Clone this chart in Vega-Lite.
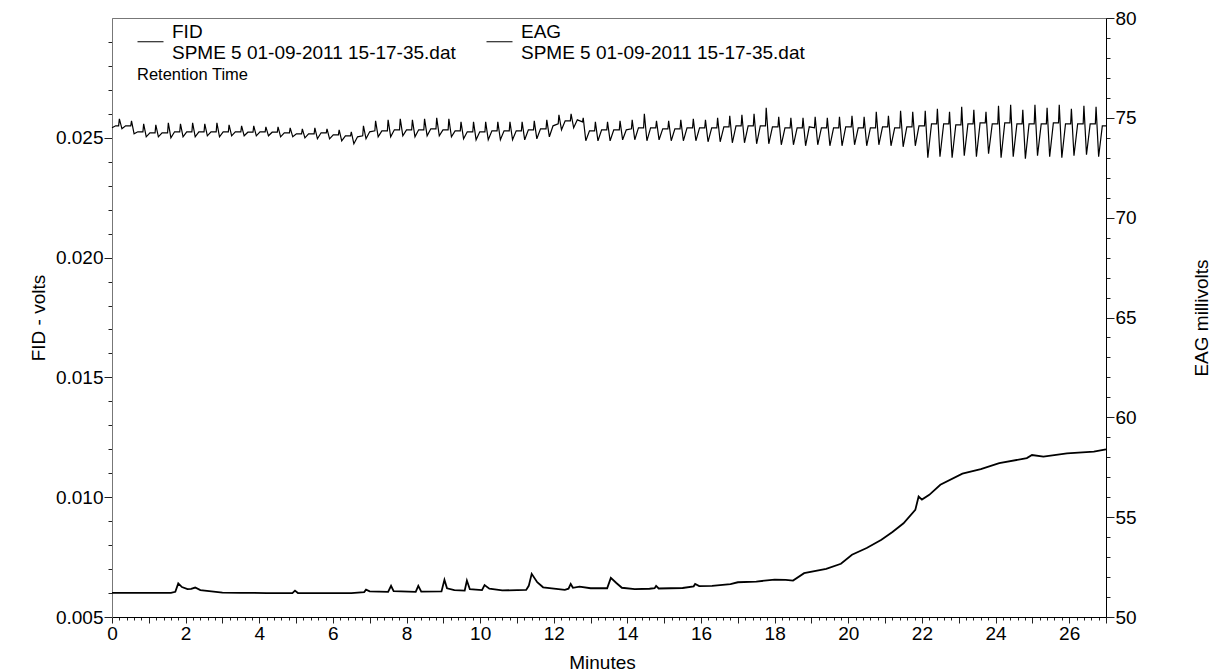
{
"$schema": "https://vega.github.io/schema/vega-lite/v6.json",
"width": 994,
"height": 599,
"autosize": {"type": "none"},
"padding": {"left": 112, "top": 18, "right": 112, "bottom": 54},
"background": "white",
"config": {
  "view": {"stroke": "#777", "strokeWidth": 1},
  "font": "Liberation Sans",
  "axis": {"grid": false, "labelFont": "Liberation Sans", "titleFont": "Liberation Sans", "labelColor": "black", "titleColor": "black", "titleFontWeight": "normal", "labelFontSize": 19, "titleFontSize": 19, "tickColor": "#222", "domainColor": "black", "labelOverlap": false, "labelFlush": false}
},
"datasets": {
"fid": [
{"t":0,"v":0.00601},{"t":1.6,"v":0.00601},{"t":1.72,"v":0.00605},{"t":1.8,"v":0.0064},{"t":1.9,"v":0.00625},{"t":2.05,"v":0.00616},{"t":2.15,"v":0.00617},{"t":2.26,"v":0.00623},{"t":2.4,"v":0.00612},{"t":2.7,"v":0.00607},{"t":3.0,"v":0.00602},{"t":3.5,"v":0.00601},{"t":4.2,"v":0.006},{"t":4.9,"v":0.006},{"t":4.97,"v":0.0061},{"t":5.05,"v":0.006},{"t":6.5,"v":0.006},{"t":6.85,"v":0.00604},{"t":6.9,"v":0.00614},{"t":7.0,"v":0.00607},{"t":7.5,"v":0.00605},{"t":7.58,"v":0.0063},{"t":7.65,"v":0.00608},{"t":8.25,"v":0.00605},{"t":8.32,"v":0.0063},{"t":8.4,"v":0.00606},{"t":8.95,"v":0.00607},{"t":9.03,"v":0.00655},{"t":9.1,"v":0.0062},{"t":9.3,"v":0.00612},{"t":9.58,"v":0.0061},{"t":9.64,"v":0.00652},{"t":9.72,"v":0.00616},{"t":10.05,"v":0.00612},{"t":10.12,"v":0.00633},{"t":10.25,"v":0.00618},{"t":10.6,"v":0.00611},{"t":11.25,"v":0.00613},{"t":11.32,"v":0.0063},{"t":11.4,"v":0.0068},{"t":11.55,"v":0.00645},{"t":11.71,"v":0.00624},{"t":12.3,"v":0.00613},{"t":12.4,"v":0.00618},{"t":12.46,"v":0.00638},{"t":12.52,"v":0.00622},{"t":12.7,"v":0.00627},{"t":13.0,"v":0.0062},{"t":13.45,"v":0.0062},{"t":13.55,"v":0.00663},{"t":13.7,"v":0.00642},{"t":13.85,"v":0.00622},{"t":14.2,"v":0.00616},{"t":14.6,"v":0.00618},{"t":14.74,"v":0.0062},{"t":14.78,"v":0.0063},{"t":14.85,"v":0.00619},{"t":15.5,"v":0.00621},{"t":15.8,"v":0.00628},{"t":15.84,"v":0.00638},{"t":15.95,"v":0.00629},{"t":16.3,"v":0.0063},{"t":16.8,"v":0.00637},{"t":17.0,"v":0.00645},{"t":17.5,"v":0.00648},{"t":18.0,"v":0.00656},{"t":18.3,"v":0.00655},{"t":18.5,"v":0.00652},{"t":18.8,"v":0.00683},{"t":19.4,"v":0.00701},{"t":19.8,"v":0.00722},{"t":20.1,"v":0.0076},{"t":20.5,"v":0.00788},{"t":20.9,"v":0.00822},{"t":21.2,"v":0.00855},{"t":21.5,"v":0.00891},{"t":21.82,"v":0.00947},{"t":21.91,"v":0.01003},{"t":22.0,"v":0.0099},{"t":22.2,"v":0.0101},{"t":22.5,"v":0.01052},{"t":23.1,"v":0.01098},{"t":23.6,"v":0.01117},{"t":24.1,"v":0.01142},{"t":24.85,"v":0.01163},{"t":24.99,"v":0.01176},{"t":25.3,"v":0.01169},{"t":25.94,"v":0.01183},{"t":26.67,"v":0.0119},{"t":27.0,"v":0.012}
],
"eag": [
{"t":0,"v":74.5},{"t":0.1,"v":74.6},
{"t":0.18,"v":74.6},{"t":0.2,"v":74.95},{"t":0.27,"v":74.45},{"t":0.37,"v":74.6},
{"t":0.51,"v":74.6},{"t":0.53,"v":74.85},{"t":0.6,"v":74.2},{"t":0.7,"v":74.3},
{"t":0.84,"v":74.3},{"t":0.86,"v":74.7},{"t":0.93,"v":74.05},{"t":1.03,"v":74.25},
{"t":1.17,"v":74.25},{"t":1.19,"v":74.65},{"t":1.26,"v":74.05},{"t":1.36,"v":74.25},
{"t":1.51,"v":74.25},{"t":1.53,"v":74.75},{"t":1.6,"v":74.0},{"t":1.7,"v":74.3},
{"t":1.84,"v":74.3},{"t":1.86,"v":74.7},{"t":1.93,"v":74.05},{"t":2.03,"v":74.3},
{"t":2.17,"v":74.3},{"t":2.19,"v":74.75},{"t":2.26,"v":74.05},{"t":2.36,"v":74.3},
{"t":2.5,"v":74.3},{"t":2.52,"v":74.7},{"t":2.59,"v":74.1},{"t":2.69,"v":74.3},
{"t":2.83,"v":74.3},{"t":2.85,"v":74.75},{"t":2.92,"v":74.05},{"t":3.02,"v":74.3},
{"t":3.16,"v":74.3},{"t":3.18,"v":74.65},{"t":3.25,"v":74.1},{"t":3.35,"v":74.3},
{"t":3.5,"v":74.3},{"t":3.52,"v":74.6},{"t":3.59,"v":74.1},{"t":3.69,"v":74.28},
{"t":3.83,"v":74.28},{"t":3.85,"v":74.6},{"t":3.92,"v":74.1},{"t":4.02,"v":74.3},
{"t":4.16,"v":74.3},{"t":4.18,"v":74.55},{"t":4.25,"v":74.1},{"t":4.35,"v":74.28},
{"t":4.49,"v":74.28},{"t":4.51,"v":74.55},{"t":4.58,"v":74.05},{"t":4.68,"v":74.25},
{"t":4.82,"v":74.25},{"t":4.84,"v":74.5},{"t":4.91,"v":74.05},{"t":5.01,"v":74.2},
{"t":5.15,"v":74.2},{"t":5.17,"v":74.45},{"t":5.24,"v":74.0},{"t":5.34,"v":74.2},
{"t":5.49,"v":74.2},{"t":5.51,"v":74.5},{"t":5.58,"v":73.95},{"t":5.68,"v":74.25},
{"t":5.82,"v":74.25},{"t":5.84,"v":74.45},{"t":5.91,"v":73.95},{"t":6.01,"v":74.15},
{"t":6.15,"v":74.15},{"t":6.17,"v":74.4},{"t":6.24,"v":73.85},{"t":6.34,"v":74.1},
{"t":6.48,"v":74.1},{"t":6.5,"v":74.3},{"t":6.57,"v":73.7},{"t":6.67,"v":74.05},
{"t":6.81,"v":74.1},{"t":6.83,"v":74.6},{"t":6.9,"v":73.95},{"t":7.0,"v":74.3},
{"t":7.14,"v":74.35},{"t":7.16,"v":74.85},{"t":7.23,"v":74.05},{"t":7.33,"v":74.35},
{"t":7.48,"v":74.35},{"t":7.5,"v":74.9},{"t":7.57,"v":74.05},{"t":7.67,"v":74.4},
{"t":7.81,"v":74.4},{"t":7.83,"v":74.95},{"t":7.9,"v":74.1},{"t":8.0,"v":74.4},
{"t":8.14,"v":74.4},{"t":8.16,"v":74.9},{"t":8.23,"v":74.05},{"t":8.33,"v":74.4},
{"t":8.47,"v":74.4},{"t":8.49,"v":74.95},{"t":8.56,"v":74.1},{"t":8.66,"v":74.45},
{"t":8.8,"v":74.45},{"t":8.82,"v":75.0},{"t":8.89,"v":74.1},{"t":8.99,"v":74.4},
{"t":9.13,"v":74.4},{"t":9.15,"v":74.95},{"t":9.22,"v":74.05},{"t":9.32,"v":74.35},
{"t":9.46,"v":74.35},{"t":9.48,"v":74.8},{"t":9.55,"v":73.95},{"t":9.65,"v":74.3},
{"t":9.8,"v":74.3},{"t":9.82,"v":74.8},{"t":9.89,"v":73.9},{"t":9.99,"v":74.3},
{"t":10.13,"v":74.3},{"t":10.15,"v":74.8},{"t":10.22,"v":73.9},{"t":10.32,"v":74.35},
{"t":10.46,"v":74.35},{"t":10.48,"v":74.8},{"t":10.55,"v":73.9},{"t":10.65,"v":74.35},
{"t":10.79,"v":74.35},{"t":10.81,"v":74.8},{"t":10.88,"v":73.9},{"t":10.98,"v":74.35},
{"t":11.12,"v":74.35},{"t":11.14,"v":74.8},{"t":11.21,"v":73.9},{"t":11.31,"v":74.4},
{"t":11.45,"v":74.4},{"t":11.47,"v":74.85},{"t":11.54,"v":73.95},{"t":11.64,"v":74.45},
{"t":11.79,"v":74.45},{"t":11.81,"v":74.9},{"t":11.88,"v":74.05},{"t":11.98,"v":74.6},
{"t":12.12,"v":74.7},{"t":12.14,"v":75.15},{"t":12.21,"v":74.4},{"t":12.31,"v":74.85},
{"t":12.45,"v":74.85},{"t":12.47,"v":75.2},{"t":12.54,"v":74.5},{"t":12.64,"v":74.9},
{"t":12.78,"v":74.8},{"t":12.8,"v":75.0},{"t":12.87,"v":73.85},{"t":12.97,"v":74.35},
{"t":13.11,"v":74.35},{"t":13.13,"v":74.8},{"t":13.2,"v":73.85},{"t":13.3,"v":74.4},
{"t":13.44,"v":74.4},{"t":13.46,"v":74.8},{"t":13.53,"v":73.85},{"t":13.63,"v":74.4},
{"t":13.78,"v":74.4},{"t":13.8,"v":74.85},{"t":13.87,"v":73.9},{"t":13.97,"v":74.4},
{"t":14.11,"v":74.45},{"t":14.13,"v":74.9},{"t":14.2,"v":73.9},{"t":14.3,"v":74.5},
{"t":14.44,"v":74.5},{"t":14.46,"v":75.2},{"t":14.53,"v":73.85},{"t":14.63,"v":74.5},
{"t":14.77,"v":74.5},{"t":14.79,"v":74.85},{"t":14.86,"v":73.9},{"t":14.96,"v":74.45},
{"t":15.1,"v":74.45},{"t":15.12,"v":74.85},{"t":15.19,"v":73.85},{"t":15.29,"v":74.45},
{"t":15.43,"v":74.45},{"t":15.45,"v":74.9},{"t":15.52,"v":73.85},{"t":15.62,"v":74.5},
{"t":15.77,"v":74.5},{"t":15.79,"v":74.95},{"t":15.86,"v":73.85},{"t":15.96,"v":74.5},
{"t":16.1,"v":74.5},{"t":16.12,"v":74.9},{"t":16.19,"v":73.8},{"t":16.29,"v":74.5},
{"t":16.43,"v":74.5},{"t":16.45,"v":75.0},{"t":16.52,"v":73.8},{"t":16.62,"v":74.55},
{"t":16.76,"v":74.55},{"t":16.78,"v":75.1},{"t":16.85,"v":73.75},{"t":16.95,"v":74.6},
{"t":17.09,"v":74.6},{"t":17.11,"v":75.15},{"t":17.18,"v":73.75},{"t":17.28,"v":74.6},
{"t":17.42,"v":74.6},{"t":17.44,"v":75.2},{"t":17.51,"v":73.7},{"t":17.61,"v":74.6},
{"t":17.75,"v":74.6},{"t":17.77,"v":75.5},{"t":17.84,"v":73.7},{"t":17.94,"v":74.55},
{"t":18.09,"v":74.55},{"t":18.11,"v":75.05},{"t":18.18,"v":73.65},{"t":18.28,"v":74.5},
{"t":18.42,"v":74.5},{"t":18.44,"v":75.0},{"t":18.51,"v":73.65},{"t":18.61,"v":74.5},
{"t":18.75,"v":74.5},{"t":18.77,"v":75.0},{"t":18.84,"v":73.6},{"t":18.94,"v":74.55},
{"t":19.08,"v":74.5},{"t":19.1,"v":75.05},{"t":19.17,"v":73.65},{"t":19.27,"v":74.5},
{"t":19.41,"v":74.5},{"t":19.43,"v":75.0},{"t":19.5,"v":73.6},{"t":19.6,"v":74.5},
{"t":19.74,"v":74.5},{"t":19.76,"v":75.05},{"t":19.83,"v":73.6},{"t":19.93,"v":74.55},
{"t":20.08,"v":74.55},{"t":20.1,"v":75.1},{"t":20.17,"v":73.65},{"t":20.27,"v":74.5},
{"t":20.41,"v":74.5},{"t":20.43,"v":75.05},{"t":20.5,"v":73.6},{"t":20.6,"v":74.5},
{"t":20.74,"v":74.5},{"t":20.76,"v":75.3},{"t":20.83,"v":73.65},{"t":20.93,"v":74.55},
{"t":21.07,"v":74.55},{"t":21.09,"v":75.1},{"t":21.16,"v":73.6},{"t":21.26,"v":74.5},
{"t":21.4,"v":74.5},{"t":21.42,"v":75.35},{"t":21.49,"v":73.55},{"t":21.59,"v":74.55},
{"t":21.73,"v":74.55},{"t":21.75,"v":75.3},{"t":21.82,"v":73.6},{"t":21.92,"v":74.6},
{"t":22.07,"v":74.6},{"t":22.09,"v":75.35},{"t":22.16,"v":73.0},{"t":22.26,"v":74.7},
{"t":22.4,"v":74.7},{"t":22.42,"v":75.45},{"t":22.49,"v":73.05},{"t":22.59,"v":74.7},
{"t":22.73,"v":74.7},{"t":22.75,"v":75.3},{"t":22.82,"v":73.0},{"t":22.92,"v":74.65},
{"t":23.06,"v":74.65},{"t":23.08,"v":75.55},{"t":23.15,"v":73.1},{"t":23.25,"v":74.7},
{"t":23.39,"v":74.7},{"t":23.41,"v":75.4},{"t":23.48,"v":73.05},{"t":23.58,"v":74.75},
{"t":23.72,"v":74.75},{"t":23.74,"v":75.3},{"t":23.81,"v":73.2},{"t":23.91,"v":74.7},
{"t":24.06,"v":74.7},{"t":24.08,"v":75.6},{"t":24.15,"v":73.0},{"t":24.25,"v":74.75},
{"t":24.39,"v":74.75},{"t":24.41,"v":75.65},{"t":24.48,"v":73.05},{"t":24.58,"v":74.7},
{"t":24.72,"v":74.7},{"t":24.74,"v":75.4},{"t":24.81,"v":72.95},{"t":24.91,"v":74.7},
{"t":25.05,"v":74.7},{"t":25.07,"v":75.65},{"t":25.14,"v":73.1},{"t":25.24,"v":74.7},
{"t":25.38,"v":74.7},{"t":25.4,"v":75.5},{"t":25.47,"v":73.05},{"t":25.57,"v":74.75},
{"t":25.71,"v":74.75},{"t":25.73,"v":75.65},{"t":25.8,"v":73.0},{"t":25.9,"v":74.7},
{"t":26.04,"v":74.7},{"t":26.06,"v":75.45},{"t":26.13,"v":73.1},{"t":26.23,"v":74.7},
{"t":26.38,"v":74.7},{"t":26.4,"v":75.6},{"t":26.47,"v":73.15},{"t":26.57,"v":74.7},
{"t":26.71,"v":74.7},{"t":26.73,"v":75.55},{"t":26.8,"v":73.05},{"t":26.9,"v":74.6},
{"t":27,"v":74.6}
]
},
"encoding": {
  "x": {"field": "t", "type": "quantitative", "scale": {"domain": [0, 27], "nice": false, "zero": false},
    "axis": {"title": "Minutes", "values": [0,0.2,0.4,0.6,0.8,1,1.2,1.4,1.6,1.8,2,2.2,2.4,2.6,2.8,3,3.2,3.4,3.6,3.8,4,4.2,4.4,4.6,4.8,5,5.2,5.4,5.6,5.8,6,6.2,6.4,6.6,6.8,7,7.2,7.4,7.6,7.8,8,8.2,8.4,8.6,8.8,9,9.2,9.4,9.6,9.8,10,10.2,10.4,10.6,10.8,11,11.2,11.4,11.6,11.8,12,12.2,12.4,12.6,12.8,13,13.2,13.4,13.6,13.8,14,14.2,14.4,14.6,14.8,15,15.2,15.4,15.6,15.8,16,16.2,16.4,16.6,16.8,17,17.2,17.4,17.6,17.8,18,18.2,18.4,18.6,18.8,19,19.2,19.4,19.6,19.8,20,20.2,20.4,20.6,20.8,21,21.2,21.4,21.6,21.8,22,22.2,22.4,22.6,22.8,23,23.2,23.4,23.6,23.8,24,24.2,24.4,24.6,24.8,25,25.2,25.4,25.6,25.8,26,26.2,26.4,26.6,26.8,27],
      "labelExpr": "datum.value % 2 === 0 ? format(datum.value, 'd') : ''",
      "tickSize": {"condition": {"test": "datum.value % 1 === 0", "value": 6}, "value": 3},
      "labelPadding": 1, "titleX": 490, "titleY": 45, "titleBaseline": "middle", "titleAlign": "center", "domainColor": "black"}}
},
"layer": [
  {
    "data": {"name": "fid"},
    "mark": {"type": "line", "strokeWidth": 1.8, "color": "black"},
    "encoding": {
      "y": {"field": "v", "type": "quantitative", "scale": {"domain": [0.005, 0.03], "nice": false, "zero": false},
        "axis": {"orient": "left", "title": "FID - volts",
          "values": [0.005,0.006,0.007,0.008,0.009,0.01,0.011,0.012,0.013,0.014,0.015,0.016,0.017,0.018,0.019,0.02,0.021,0.022,0.023,0.024,0.025,0.026,0.027,0.028,0.029],
          "labelExpr": "round(datum.value*1000) % 5 === 0 ? format(datum.value, '.3f') : ''",
          "tickSize": {"condition": {"test": "round(datum.value*1000) % 5 === 0", "value": 8}, "value": 4},
          "labelPadding": 1, "titleAngle": -90, "titleX": -74, "titleY": 299.5, "titleBaseline": "middle", "titleAlign": "center", "domainColor": "#777"}},
      "color": {"datum": "FID", "type": "nominal",
        "scale": {"domain": ["FID", "EAG"], "range": ["black", "black"]},
        "legend": {"title": "Retention Time", "orient": "none", "legendX": 25, "legendY": 10, "direction": "horizontal",
          "symbolType": "stroke", "symbolSize": 676, "symbolStrokeWidth": 1,
          "labelFont": "Liberation Sans", "labelFontSize": 19, "labelColor": "black", "labelLimit": 600, "labelOffset": 8,
          "labelBaseline": "bottom",
          "labelExpr": "[datum.label, 'SPME 5 01-09-2011 15-17-35.dat']",
          "columnPadding": 28, "padding": 0,
          "titleOrient": "bottom", "titleAnchor": "start", "titleFont": "Liberation Sans", "titleFontSize": 16.5, "titleFontWeight": "normal", "titleColor": "black", "titlePadding": 4}}
    }
  },
  {
    "data": {"name": "eag"},
    "mark": {"type": "line", "strokeWidth": 1.2, "color": "black"},
    "encoding": {
      "y": {"field": "v", "type": "quantitative", "scale": {"domain": [50, 80], "nice": false, "zero": false},
        "axis": {"orient": "right", "title": "EAG millivolts",
          "values": [50,51,52,53,54,55,56,57,58,59,60,61,62,63,64,65,66,67,68,69,70,71,72,73,74,75,76,77,78,79,80],
          "labelExpr": "datum.value % 5 === 0 ? datum.label : ''",
          "tickSize": {"condition": {"test": "datum.value % 5 === 0", "value": 8}, "value": 4},
          "labelPadding": 1, "titleAngle": -90, "titleX": 95, "titleY": 299.5, "titleBaseline": "middle", "titleAlign": "center", "domainColor": "black"}},
      "color": {"datum": "EAG", "type": "nominal"}
    }
  }
],
"resolve": {"scale": {"y": "independent"}}
}
